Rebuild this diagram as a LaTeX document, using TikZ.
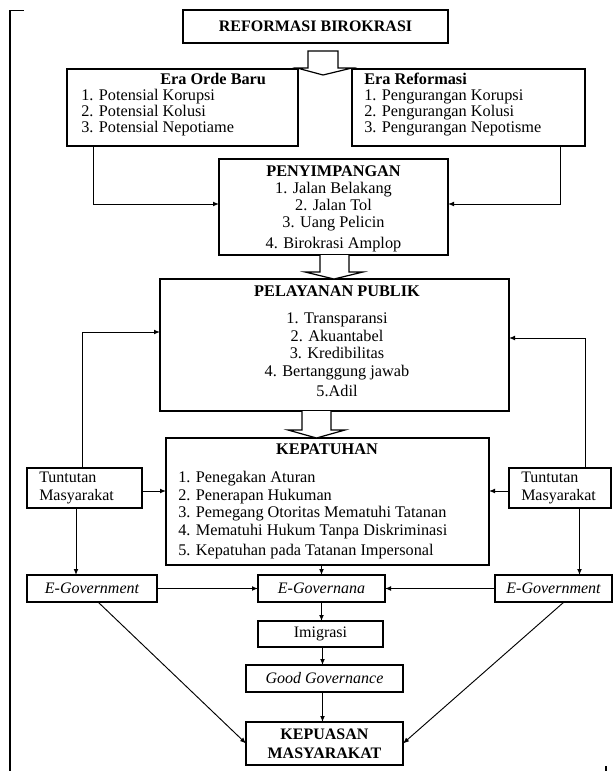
\documentclass[tikz,border=0pt]{standalone}
\usepackage{fontspec}
\setmainfont{Liberation Serif}
\usetikzlibrary{arrows.meta,calc}
\begin{document}
\begin{tikzpicture}[x=0.75pt,y=-0.75pt,
  box/.style={draw,line width=0.9pt,inner sep=0pt,outer sep=0pt,font=\fontsize{12}{14}\selectfont},
  txt/.style={inner sep=0pt,font=\fontsize{12.2}{14}\selectfont,text height=8pt,text depth=2.5pt},
  ttl/.style={txt,font=\fontsize{12.2}{14}\selectfont\bfseries,text depth=0.8pt},
  arr/.style={line width=0.7pt,-{Latex[length=4.5pt,width=3.6pt]}},
  conn/.style={line width=0.7pt},
  hollow/.style={draw,line width=0.9pt,fill=white,line join=miter}]
\useasboundingbox (0,0) rectangle (614,771);
% page frame marks
\draw[line width=1.6pt] (10,10) -- (10,771);
\draw[line width=1.4pt] (9.2,10.5) -- (24,10.5);
\draw[line width=1.4pt] (606,766) -- (606,771);

% boxes
\node[box,minimum width=198.75pt,minimum height=24.75pt] (ref) at (315.5,26.5) {\bfseries REFORMASI BIROKRASI};
\node[box,minimum width=173.25pt,minimum height=57.75pt] (orde) at (182.5,107.5) {};
\node[box,minimum width=174.75pt,minimum height=57.75pt] (erar) at (468.5,107.5) {};
\node[box,minimum width=171.75pt,minimum height=72pt] (peny) at (333.5,207) {};
\node[box,minimum width=261.75pt,minimum height=99pt] (pel) at (334.5,345) {};
\node[box,minimum width=242.25pt,minimum height=95.25pt] (kep) at (327.5,501.5) {};
\node[box,minimum width=86.25pt,minimum height=30pt] (tutL) at (84.5,488) {};
\node[box,minimum width=76.5pt,minimum height=30pt] (tutR) at (560,488) {};
\node[box,minimum width=97.5pt,minimum height=20.25pt] (egL) at (92,588.5) {\itshape E-Government};
\node[box,minimum width=95.25pt,minimum height=20.25pt] (egov) at (321.5,588.5) {\itshape E-Governana};
\node[box,minimum width=87.75pt,minimum height=20.25pt] (egR) at (553.5,588.5) {\itshape E-Government};
\node[box,minimum width=93.75pt,minimum height=19.5pt] (imi) at (320.5,634) {Imigrasi};
\node[box,minimum width=117.75pt,minimum height=20.25pt] (good) at (324.5,678.5) {\itshape Good Governance};
\node[box,minimum width=117.75pt,minimum height=32.25pt,align=center,font=\fontsize{12}{14.25}\selectfont\bfseries] (kepu) at (324.5,743.5) {KEPUASAN\\MASYARAKAT};

% texts: Era Orde Baru
\node[ttl,anchor=west] (o0) at (160,79.5) {Era Orde Baru};
\node[txt,anchor=west] (o1) at (81,96.5) {1. Potensial Korupsi};
\node[txt,anchor=west] (o2) at (81,112.5) {2. Potensial Kolusi};
\node[txt,anchor=west] (o3) at (81,128.5) {3. Potensial Nepotiame};
% Era Reformasi
\node[ttl,anchor=west] (r0) at (364,79.5) {Era Reformasi};
\node[txt,anchor=west] (r1) at (364,96.5) {1. Pengurangan Korupsi};
\node[txt,anchor=west] (r2) at (364,112.5) {2. Pengurangan Kolusi};
\node[txt,anchor=west] (r3) at (364,128.5) {3. Pengurangan Nepotisme};
% Penyimpangan
\node[ttl] (p0) at (333.5,172) {PENYIMPANGAN};
\node[txt] (p1) at (333.5,190) {1. Jalan Belakang};
\node[txt] (p2) at (333.5,207) {2. Jalan Tol};
\node[txt] (p3) at (333.5,224) {3. Uang Pelicin};
\node[txt] (p4) at (333.5,245) {4. Birokrasi Amplop};
% Pelayanan publik
\node[ttl] (s0) at (337,292) {PELAYANAN PUBLIK};
\node[txt] (s1) at (337,320) {1. Transparansi};
\node[txt] (s2) at (337,338) {2. Akuantabel};
\node[txt] (s3) at (337,355) {3. Kredibilitas};
\node[txt] (s4) at (337,373) {4. Bertanggung jawab};
\node[txt] (s5) at (337,393) {5.Adil};
% Kepatuhan
\node[ttl] (k0) at (327,450) {KEPATUHAN};
\node[txt,anchor=west] (k1) at (178,479) {1. Penegakan Aturan};
\node[txt,anchor=west] (k2) at (178,497) {2. Penerapan Hukuman};
\node[txt,anchor=west] (k3) at (178,514) {3. Pemegang Otoritas Mematuhi Tatanan};
\node[txt,anchor=west] (k4) at (178,532) {4. Mematuhi Hukum Tanpa Diskriminasi};
\node[txt,anchor=west] (k5) at (178,552) {5. Kepatuhan pada Tatanan Impersonal};
% Tuntutan
\node[anchor=west,align=left,inner sep=0pt,font=\fontsize{12}{13.5}\selectfont] (tl) at (39,488) {Tuntutan\\Masyarakat};
\node[anchor=west,align=left,inner sep=0pt,font=\fontsize{12}{13.5}\selectfont] (tr) at (521,488) {Tuntutan\\Masyarakat};

% hollow block arrows
\draw[hollow] (308,51) -- (308,68) -- (297,68) -- (323,75) -- (352,68) -- (338,68) -- (338,51) -- cycle;
\draw[hollow] (320,255) -- (320,272) -- (305,272) -- (334,279) -- (363,272) -- (349,272) -- (349,255);
\draw[hollow] (302,411) -- (302,430) -- (288,430) -- (316.5,438) -- (345,430) -- (331,430) -- (331,411);

% connectors
\draw[arr] ($(orde.south west)+(26,0)$) |- ([yshift=2.25pt]peny.west);
\draw[arr] ($(erar.south east)+(-25,0)$) |- ([yshift=2.25pt]peny.east);
\draw[arr] ($(tutL.north west)+(55,0)$) |- ([yshift=9.75pt]pel.west);
\draw[arr] ($(tutR.north west)+(76.5,0)$) |- ([yshift=5.25pt]pel.east);
\draw[arr] ([yshift=-2.25pt]tutL.east) -- ([yshift=-2.25pt]tutL.east -| kep.west);
\draw[arr] ([yshift=-2.25pt]tutR.west) -- ([yshift=-2.25pt]tutR.west -| kep.east);
\coordinate (tlb) at ($(tutL.south west)+(49,0)$);
\coordinate (trb) at ($(tutR.south west)+(70.5,0)$);
\coordinate (imb) at ($(imi.south)+(2,0)$);
\coordinate (gdb) at ($(good.south)+(-2,0)$);
\draw[arr] (tlb) -- (tlb |- egL.north);
\draw[arr] (trb) -- (trb |- egR.north);
\draw[arr] (egL.east) -- (egov.west);
\draw[arr] (egR.west) -- (egov.east);
\draw[arr] (egov.north |- kep.south) -- (egov.north);
\draw[arr] (egov.south) -- (egov.south |- imi.north);
\draw[arr] (imb) -- (imb |- good.north);
\draw[arr] (gdb) -- (gdb |- kepu.north);
\draw[arr] ($(egL.south west)+(71,0)$) -- (kepu.west);
\draw[arr] ($(egR.south west)+(69,0)$) -- (kepu.east);
\end{tikzpicture}
\end{document}
